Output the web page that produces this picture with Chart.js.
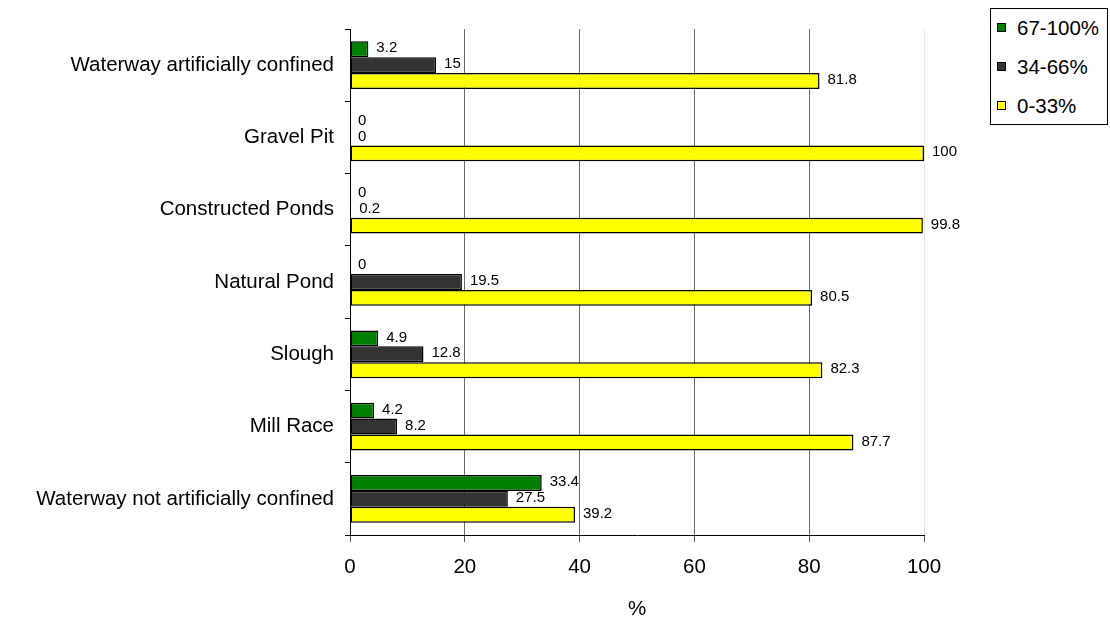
<!DOCTYPE html>
<html>
<head>
<meta charset="utf-8">
<script src="https://cdn.jsdelivr.net/npm/chart.js@4.4.0/dist/chart.umd.min.js"></script>
<style>
  body { margin: 0; background: #fff; }
  #wrap { position: relative; width: 1110px; height: 620px; }
  #legend {
    position: absolute; left: 990px; top: 8px; width: 118px; height: 117px;
    border: 1px solid #000; box-sizing: border-box; background: #fff;
    font: 20.5px 'Liberation Sans', Arial, sans-serif; color: #000;
  }
  .item { position: absolute; left: 6px; height: 20px; line-height: 20px; }
  .sw { position: absolute; left: 0; top: 5px; width: 7px; height: 7px; border: 1px solid #000; }
  .lbl { position: absolute; left: 20px; top: 0; white-space: nowrap; }
</style>
</head>
<body>
<div id="wrap">
  <canvas id="c" width="1110" height="620"></canvas>
  <div id="legend"></div>
</div>
<script>
// Habitat categories (top to bottom)
const categories = [
  'Waterway artificially confined',
  'Gravel Pit',
  'Constructed Ponds',
  'Natural Pond',
  'Slough',
  'Mill Race',
  'Waterway not artificially confined'
];

// Share of sites (%) in each cover class
const high = [3.2, 0, 0, 0, 4.9, 4.2, 33.4];            // 67-100%
const mid  = [15, 0, 0.2, 19.5, 12.8, 8.2, 27.5];       // 34-66%
const low  = [81.8, 100, 99.8, 80.5, 82.3, 87.7, 39.2]; // 0-33%

const seriesNames = ['67-100%', '34-66%', '0-33%'];
const seriesColors = ['#008000', '#333333', '#FFFF00'];
const xTicks = [0, 20, 40, 60, 80, 100];

const FONT = "'Liberation Sans', Arial, sans-serif";
const AXIS_FONT = { family: FONT, size: 20.5 };

// Value labels to the right of each bar
const valueLabels = {
  id: 'valueLabels',
  afterDatasetsDraw(chart) {
    const ctx = chart.ctx;
    ctx.save();
    ctx.font = '15px ' + FONT;
    ctx.fillStyle = '#000';
    ctx.textAlign = 'left';
    ctx.textBaseline = 'middle';
    const base = chart.scales.x.getPixelForValue(0);
    chart.data.datasets.forEach((ds, i) => {
      const meta = chart.getDatasetMeta(i);
      meta.data.forEach((bar, j) => {
        const end = Math.max(bar.x, base);
        ctx.fillText(String(ds.data[j]), end + 8, bar.y - 1);
      });
    });
    ctx.restore();
  }
};

const values = [high, mid, low];
const chart = new Chart(document.getElementById('c'), {
  type: 'bar',
  data: {
    labels: categories,
    datasets: values.map((d, i) => ({
      label: seriesNames[i],
      data: d,
      backgroundColor: seriesColors[i],
      borderColor: '#000',
      borderWidth: 1.5,
      borderSkipped: false,
      categoryPercentage: 0.66,
      barPercentage: 1
    }))
  },
  options: {
    indexAxis: 'y',
    responsive: false,
    animation: false,
    devicePixelRatio: 1,
    layout: { padding: { top: 29, right: 186, left: 0, bottom: 0 } },
    plugins: { legend: { display: false }, tooltip: { enabled: false } },
    scales: {
      x: {
        min: 0, max: 100,
        afterBuildTicks(scale) { scale.ticks = xTicks.map(v => ({ value: v })); },
        afterFit(scale) { scale.height = 85; },
        ticks: { color: '#000', font: AXIS_FONT, padding: 13 },
        grid: {
          color: ctx => (ctx.tick && ctx.tick.value === 100 ? '#e6e6e6' : '#6a6a6a'),
          tickColor: '#555',
          tickLength: 7,
          lineWidth: 1
        },
        border: { display: true, color: '#000', width: 1 },
        title: {
          display: true, text: '%', color: '#000',
          font: { family: FONT, size: 20.5, lineHeight: 1.05 },
          padding: { top: 0, bottom: 0 }
        }
      },
      y: {
        afterFit(scale) { scale.width = 350; },
        ticks: { color: '#000', font: AXIS_FONT, padding: 11 },
        grid: { drawOnChartArea: false, drawTicks: true, tickLength: 5, color: '#000', offset: true },
        border: { display: true, color: '#000', width: 1 }
      }
    }
  },
  plugins: [valueLabels]
});

// Legend box
const legend = document.getElementById('legend');
const rowTops = [9, 48, 87];
seriesNames.forEach((name, i) => {
  const item = document.createElement('div');
  item.className = 'item';
  item.style.top = rowTops[i] + 'px';
  const sw = document.createElement('span');
  sw.className = 'sw';
  sw.style.background = seriesColors[i];
  const lbl = document.createElement('span');
  lbl.className = 'lbl';
  lbl.textContent = name;
  item.appendChild(sw);
  item.appendChild(lbl);
  legend.appendChild(item);
});
</script>
</body>
</html>
